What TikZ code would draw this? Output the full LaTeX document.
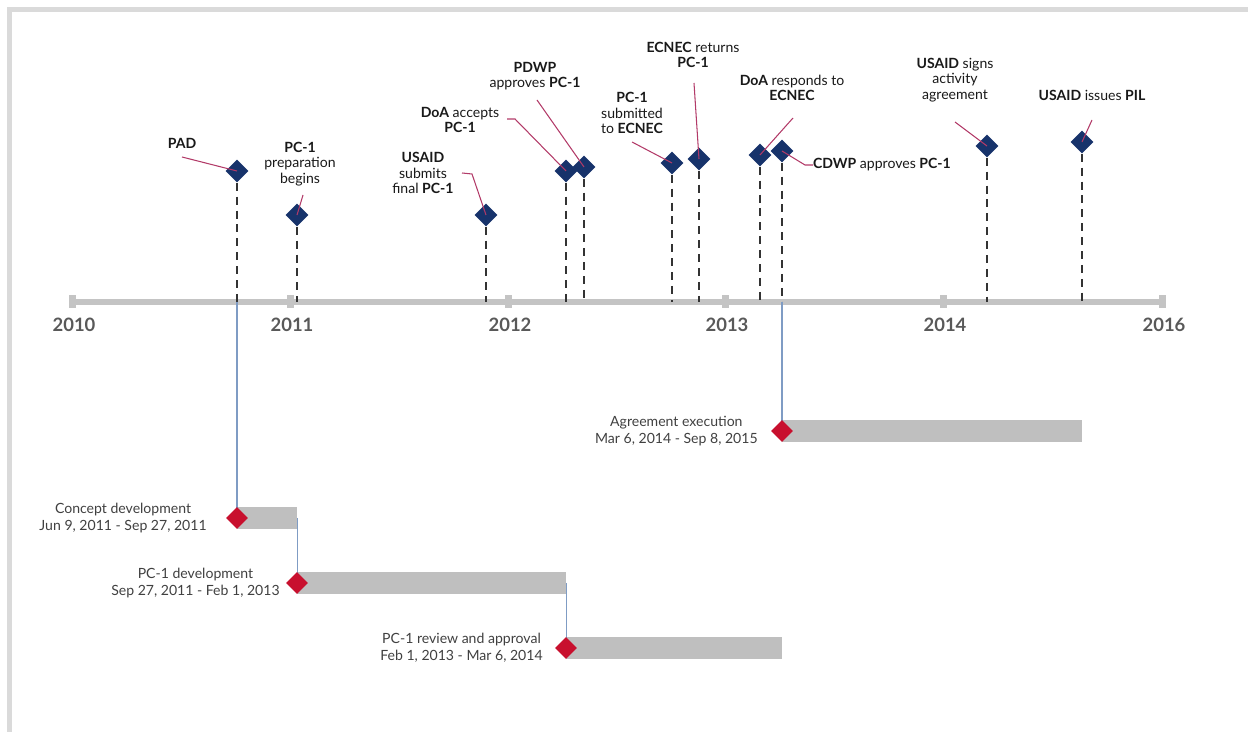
\documentclass[tikz,border=0pt]{standalone}
\usepackage{fontspec}
\setmainfont{Lato}
\usetikzlibrary{shapes.geometric}

\definecolor{navy}{HTML}{17336B}
\definecolor{crimson}{HTML}{C8102E}
\definecolor{leadpink}{HTML}{B23A68}
\definecolor{bargrey}{HTML}{BFBFBF}
\definecolor{axisgrey}{HTML}{C4C4C4}
\definecolor{linkblue}{HTML}{7F9CC4}
\definecolor{framegrey}{HTML}{DADADA}
\definecolor{yeargrey}{HTML}{595959}
\definecolor{phasetext}{HTML}{404040}

\tikzset{
    milestone/.style={diamond, fill=navy, inner sep=0pt, minimum size=0.46cm},
    phasemark/.style={diamond, fill=crimson, inner sep=0pt, minimum size=0.44cm},
    phasebar/.style={fill=bargrey, inner sep=0pt, minimum height=0.44cm, anchor=west},
    mlabel/.style={font=\fontsize{8}{8.8}\selectfont, align=center, text=black!90},
    plabel/.style={font=\fontsize{8}{9.6}\selectfont, align=center, text=phasetext, anchor=east, inner sep=0pt},
    year/.style={font=\fontsize{10.5}{12}\selectfont\bfseries, text=yeargrey},
    leader/.style={draw=leadpink, line width=0.6pt},
    drop/.style={draw=black!80, line width=0.7pt, dash pattern=on 4.5pt off 3.4pt},
    link/.style={draw=linkblue, line width=0.8pt},
    tick/.style={fill=axisgrey, minimum width=0.14cm, minimum height=0.26cm, inner sep=0pt}
}

\begin{document}
\begin{tikzpicture}[x=0.02cm, y=-0.02cm]
    \useasboundingbox (0,0) rectangle (1248,732);

    % Frame
    \fill[framegrey] (7,7) rectangle (1248,12);
    \fill[framegrey] (7,7) rectangle (12,732);

    % Axis
    \coordinate (axisL) at (72,302);
    \coordinate (axisR) at (1162,302);
    \draw[axisgrey, line width=3.4pt] (axisL) -- (axisR);
    \foreach \x/\yr in {72/2010, 290/2011, 508/2012, 725/2013, 943/2014, 1162/2016} {
        \node[tick] (t\yr) at (\x,302) {};
        \node[year] (y\yr) at (\x+2,325) {\yr};
    }

    % Milestones
    \node[milestone] (m1) at (237,171) {};
    \node[milestone] (m2) at (297,215) {};
    \node[milestone] (m3) at (486,215) {};
    \node[milestone] (m4) at (566,171) {};
    \node[milestone] (m5) at (584,167) {};
    \node[milestone] (m6) at (672,163) {};
    \node[milestone] (m7) at (699,159) {};
    \node[milestone] (m8) at (760,155) {};
    \node[milestone] (m9) at (782,151) {};
    \node[milestone] (m10) at (987,146) {};
    \node[milestone] (m11) at (1082,142) {};
    \foreach \m in {1,...,11}
        \draw[drop] (m\m.south) -- (m\m.south |- axisL);

    % Milestone labels
    \node[mlabel] (l1) at (182,143) {\textbf{PAD}};
    \node[mlabel] (l2) at (300,164) {\textbf{PC-1}\\preparation\\begins};
    \node[mlabel] (l3) at (423,173) {\textbf{USAID}\\submits\\final \textbf{PC-1}};
    \node[mlabel] (l4) at (460,120) {\textbf{DoA} accepts\\\textbf{PC-1}};
    \node[mlabel] (l5) at (535,76) {\textbf{PDWP}\\approves \textbf{PC-1}};
    \node[mlabel] (l6) at (632,113) {\textbf{PC-1}\\submitted\\to \textbf{ECNEC}};
    \node[mlabel] (l7) at (693,55) {\textbf{ECNEC} returns\\\textbf{PC-1}};
    \node[mlabel] (l8) at (792,88) {\textbf{DoA} responds to\\\textbf{ECNEC}};
    \node[mlabel] (l9) at (882,165) {\textbf{CDWP} approves \textbf{PC-1}};
    \node[mlabel] (l10) at (955,80) {\textbf{USAID} signs\\activity\\agreement};
    \node[mlabel] (l11) at (1092,95) {\textbf{USAID} issues \textbf{PIL}};

    % Leaders
    \coordinate (k1) at (182,157);
    \coordinate (k2) at (303,195);
    \coordinate (k3) at (462,173);
    \coordinate (k4) at (507,119);
    \coordinate (k5) at (537,100);
    \coordinate (k6) at (632,142);
    \coordinate (k7) at (694,83);
    \coordinate (k8) at (793,118);
    \coordinate (k9) at (813,165);
    \coordinate (k10) at (955,122);
    \coordinate (k11) at (1092,120);
    \draw[leader] (k1) -- (m1.center);
    \draw[leader] (k2) -- (m2.center);
    \draw[leader] (k3) -- ++(10,1) -- (m3.center);
    \draw[leader] (k4) -- ++(8,0) -- (m4.center);
    \draw[leader] (k5) -- (m5.center);
    \draw[leader] (k6) -- (m6.center);
    \draw[leader] (k7) -- (m7.center);
    \draw[leader] (k8) -- (m8.center);
    \draw[leader] (m9.center) -- (805,165) -- (k9);
    \draw[leader] (k10) -- (m10.center);
    \draw[leader] (k11) -- (m11.center);

    % Phases
    \node[phasebar, minimum width=1.2cm] (b1) at (237,518) {};
    \node[phasebar, minimum width=5.38cm] (b2) at (297,583) {};
    \node[phasebar, minimum width=4.32cm] (b3) at (566,648) {};
    \node[phasebar, minimum width=6cm] (b4) at (782,431) {};
    \coordinate (a1) at (237,302);
    \coordinate (a4) at (782,302);
    \draw[link] (a1) -- (b1.west);
    \draw[link] (b1.east) -- (b2.west -| b1.east);
    \draw[link] (b2.east) -- (b3.west -| b2.east);
    \draw[link] (a4) -- (b4.west);
    \node[phasemark] (c1) at (b1.west) {};
    \node[phasemark] (c2) at (b2.west) {};
    \node[phasemark] (c3) at (b3.west) {};
    \node[phasemark] (c4) at (b4.west) {};

    % Phase labels
    \node[plabel] (p1) at (207,518) {Concept development\\Jun 9, 2011 - Sep 27, 2011};
    \node[plabel] (p2) at (280,583) {PC-1 development\\Sep 27, 2011 - Feb 1, 2013};
    \node[plabel] (p3) at (543,648) {PC-1 review and approval\\Feb 1, 2013 - Mar 6, 2014};
    \node[plabel] (p4) at (758,431) {Agreement execution\\Mar 6, 2014 - Sep 8, 2015};
\end{tikzpicture}
\end{document}
